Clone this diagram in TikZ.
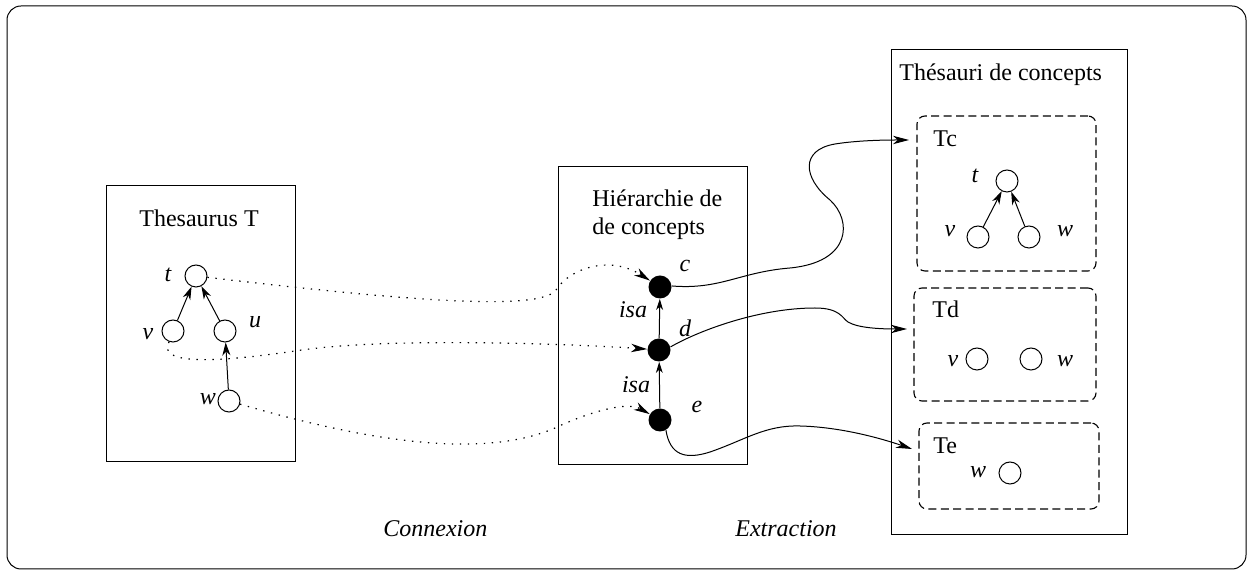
\documentclass[tikz,border=0pt]{standalone}
\usepackage{fontspec}
\setmainfont{Liberation Serif}
\usetikzlibrary{arrows.meta}
\begin{document}
\begin{tikzpicture}[x=0.5pt,y=-0.5pt,
  every node/.style={font=\fontsize{12}{14}\selectfont},
  txt/.style={anchor=base west, inner sep=0pt},
  lbl/.style={anchor=base, inner sep=0pt, font=\fontsize{12}{14}\selectfont\itshape},
  onode/.style={circle, draw, line width=0.5pt, minimum size=11pt, inner sep=0pt},
  bnode/.style={circle, fill=black, minimum size=11.5pt, inner sep=0pt},
  box/.style={draw, line width=0.5pt},
  dashbox/.style={draw, line width=0.55pt, dash pattern=on 4pt off 2.2pt, rounded corners=4pt},
  treearrow/.style={-{Stealth[length=6.5pt,width=4pt,inset=2pt]}, line width=0.5pt},
  isaarrow/.style={-{Stealth[length=5.5pt,width=3.4pt,inset=1.6pt]}, line width=0.5pt},
  connect/.style={-{Stealth[length=8pt,width=4.2pt,inset=2.4pt]}, line width=0.6pt,
                  dash pattern=on 0.7pt off 3.3pt},
  extract/.style={-{Stealth[length=8pt,width=4.2pt,inset=2.4pt]}, line width=0.5pt}
]
\useasboundingbox (0,0) rectangle (1249,576);

% outer frame
\draw[box, rounded corners=7pt] (7,6) rectangle (1246,569);

% containers
\draw[box] (106,186) rectangle (295,462);
\draw[box] (558,167) rectangle (747,465);
\draw[box] (891,50) rectangle (1127,535);

% titles
\node[txt] (thTitle) at (139,227) {Thesaurus T};
\node[txt] (hTitleA) at (592,207) {Hiérarchie de};
\node[txt] (hTitleB) at (592,235) {de concepts};
\node[txt] (tcTitle) at (899,81) {Thésauri de concepts};

% thesaurus T
\node[onode] (t) at (196,276) {};
\node[onode] (v) at (173,331) {};
\node[onode] (u) at (225,331) {};
\node[onode] (w) at (229,401) {};
\node[lbl] (lt) at (168,282) {t};
\node[lbl] (lv) at (148,340) {v};
\node[lbl] (lu) at (255,328) {u};
\node[lbl] (lw) at (208,405) {w};
\draw[treearrow] (v) -- (t);
\draw[treearrow] (u) -- (t);
\draw[treearrow] (w) -- (u);

% concept hierarchy
\node[bnode] (c) at (660,287) {};
\node[bnode] (d) at (659,350) {};
\node[bnode] (e) at (660,420) {};
\node[lbl] (lc) at (685,272) {c};
\node[lbl] (ld) at (685,337) {d};
\node[lbl] (le) at (697,413) {e};
\node[lbl] (isa1) at (633,318) {isa};
\node[lbl] (isa2) at (636,393) {isa};
\draw[isaarrow] (d) -- (c);
\draw[isaarrow] (e) -- (d);

% concept thesauri
\node[dashbox, minimum width=89.5pt, minimum height=77.5pt] (Tc) at (1006.5,193.5) {};
\node[dashbox, minimum width=91pt, minimum height=56.5pt] (Td) at (1005,344.5) {};
\node[dashbox, minimum width=90pt, minimum height=43pt] (Te) at (1009,466) {};
\node[txt] (lTc) at (933,147) {Tc};
\node[txt] (lTd) at (932,318) {Td};
\node[txt] (lTe) at (933,454) {Te};

\node[onode] (ct) at (1007,181) {};
\node[onode] (cv) at (978,237) {};
\node[onode] (cw) at (1029,237) {};
\node[lbl] (lct) at (975,183) {t};
\node[lbl] (lcv) at (950,237) {v};
\node[lbl] (lcw) at (1065,237) {w};
\draw[treearrow] (cv) -- (ct);
\draw[treearrow] (cw) -- (ct);

\node[onode] (dv) at (977,359) {};
\node[onode] (dw) at (1031,359) {};
\node[lbl] (ldv) at (953,367) {v};
\node[lbl] (ldw) at (1065,367) {w};

\node[onode] (ew) at (1010,473) {};
\node[lbl] (lew) at (978,478) {w};

% connection links (dotted)
\draw[connect] (t) .. controls (400,300) and (540,312) .. (556,290)
  .. controls (570,268) and (610,255) .. (c);
\draw[connect] (v.250) .. controls (158,362) and (200,365) .. (295,351)
  .. controls (390,336) and (590,345) .. (d);
\draw[connect] (w) .. controls (330,430) and (470,465) .. (555,428)
  .. controls (580,416) and (625,400) .. (e);

% extraction links
\coordinate (tcIn) at (909,140);
\coordinate (tdIn) at (907,329);
\coordinate (teIn) at (912,449);
\draw[extract] (c.5) .. controls (720,290) and (740,272) .. (790,268)
  .. controls (852,262) and (852,220) .. (830,200)
  .. controls (803,178) and (800,150) .. (835,144)
  .. controls (860,140) and (890,140) .. (tcIn);
\draw[extract] (d.15) .. controls (700,330) and (760,308) .. (815,308)
  .. controls (840,308) and (842,318) .. (848,322)
  .. controls (858,328) and (880,329) .. (tdIn);
\draw[extract] (e.-60) .. controls (670,455) and (685,460) .. (710,452)
  .. controls (745,440) and (765,425) .. (800,426)
  .. controls (840,427) and (880,438) .. (teIn);

% phase captions
\node[lbl, anchor=base west] (connexion) at (383,537) {Connexion};
\node[lbl, anchor=base west] (extraction) at (735,537) {Extraction};
\end{tikzpicture}
\end{document}
